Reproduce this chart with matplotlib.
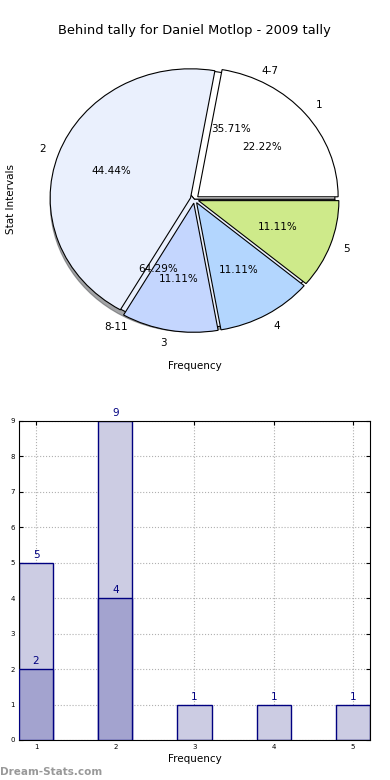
import matplotlib
matplotlib.use("Agg")
import matplotlib.pyplot as plt
import numpy as np

# pie data
outer_labels = ["4-7", "8-11"]
outer_vals = [5, 9]
inner_labels = ["1", "2", "3", "4", "5"]
inner_vals = [2, 4, 1, 1, 1]

# bar data
bar_x = [1, 2, 3, 4, 5]
bar_total = [5, 9, 1, 1, 1]
bar_behind = [2, 4, 0, 0, 0]

fig = plt.figure(figsize=(3.9, 7.8), dpi=100)

#---------------------------------------------------------------- pie
ax1 = fig.add_axes([0.0487, 0.5375, 0.9, 0.414])
ax1.pie(outer_vals, labels=outer_labels, autopct="%.2f%%", shadow=True,
        colors=["white", "#eaf0fd"], wedgeprops=dict(linewidth=0.8, edgecolor="black"),
        textprops=dict(fontsize=7.5))
ax1.pie(inner_vals, labels=inner_labels, autopct="%.2f%%", explode=[0.03] * 5,
        colors=["white", "#eaf0fd", "#c4d6fe", "#b3d6fe", "#ceea8a"],
        wedgeprops=dict(linewidth=0.8, edgecolor="black"),
        textprops=dict(fontsize=7.5))
ax1.set_aspect("auto")
ax1.set_xlim(-1.25, 1.25)
ax1.set_ylim(-1.25, 1.25)
ax1.set_frame_on(False)
ax1.set_xticks([])
ax1.set_yticks([])
ax1.set_title("Behind tally for Daniel Motlop - 2009 tally", fontsize=9.4, pad=3)
ax1.set_xlabel("Frequency", fontsize=7.5, labelpad=0)
ax1.set_ylabel("Stat Intervals", fontsize=7.5, labelpad=2)

#---------------------------------------------------------------- bars
ax2 = fig.add_axes([0.0487, 0.0513, 0.9, 0.409])
w = 0.43
ax2.bar(bar_x, bar_total, w, color="#ccccE3", edgecolor="navy", linewidth=1, zorder=2)
ax2.bar(bar_x[:2], bar_behind[:2], w, color="#a3a3cf", edgecolor="navy", linewidth=1, zorder=3)
for x, v in zip(bar_x, bar_total):
    ax2.text(x, v + 0.08, str(v), ha="center", va="bottom", color="navy", fontsize=7.5, zorder=4)
for x, v in zip(bar_x[:2], bar_behind[:2]):
    ax2.text(x, v + 0.08, str(v), ha="center", va="bottom", color="navy", fontsize=7.5, zorder=4)
ax2.set_xlim(1 - w / 2, 5 + w / 2)
ax2.set_ylim(0, 9)
ax2.set_xticks(bar_x)
ax2.set_yticks(range(10))
ax2.tick_params(labelsize=5, length=3, direction="in", top=True, right=True, pad=3)
ax2.grid(True, linestyle=":", color="#b0b0b0", linewidth=0.8, zorder=0)
ax2.set_axisbelow(True)
ax2.set_xlabel("Frequency", fontsize=7.5, labelpad=3)

fig.text(0.0, 0.004, "Dream-Stats.com", color="#999999", fontsize=7.5, fontweight="bold",
         ha="left", va="bottom")

fig.savefig("out.png", dpi=100)
